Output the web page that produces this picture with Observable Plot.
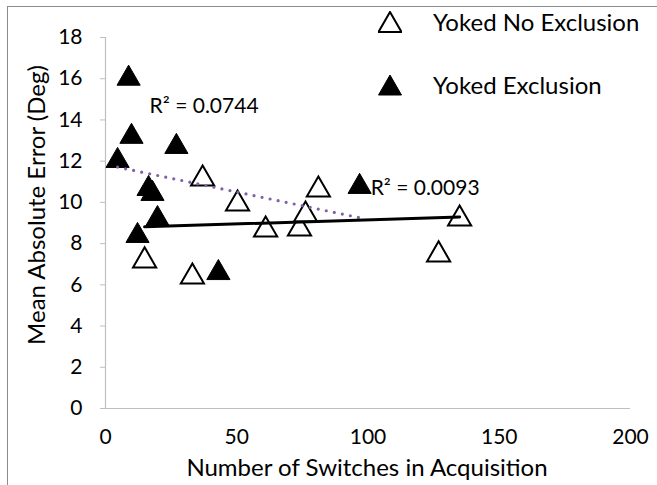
<!DOCTYPE html>
<html>
<head>
<meta charset="utf-8">
<script src="https://cdn.jsdelivr.net/npm/d3@7"></script>
<script src="https://cdn.jsdelivr.net/npm/@observablehq/plot@0.6"></script>
<style>
  html, body { margin: 0; padding: 0; background: #fff; overflow: hidden; }
  #wrap { position: relative; width: 657px; height: 485px; font-family: Lato, "Open Sans", sans-serif; color: #000; }
  #frame { position: absolute; left: 7px; top: 6px; width: 700px; height: 600px; border-left: 1px solid #8c8c8c; border-top: 1px solid #8c8c8c; }
  #chart { position: absolute; left: 0; top: 0; }
  .lbl { position: absolute; white-space: nowrap; line-height: 1; font-size: 24px; }
  .legrow { position: absolute; left: 378px; height: 24px; display: flex; align-items: center; }
  .legrow svg { width: 24px; height: 22px; }
  .legrow span { position: absolute; left: 55px; white-space: nowrap; font-size: 24px; line-height: 1; }
</style>
</head>
<body>
<div id="wrap">
  <div id="frame"></div>
  <div id="chart"></div>
  <div class="lbl" id="ytitle"></div>
  <div class="lbl" id="xtitle"></div>
  <div id="legend"></div>
</div>
<script>
// ---- data ----
const seriesNames = ["Yoked No Exclusion", "Yoked Exclusion"];
const noExclX = [37.0, 81.1, 14.9, 33.1, 50.3, 61.0, 73.9, 76.2, 134.9, 126.9];
const noExclY = [11.3, 10.77, 7.33, 6.55, 10.09, 8.83, 8.88, 9.56, 9.36, 7.62];
const exclX = [8.8, 9.9, 27.0, 4.6, 96.8, 16.4, 17.9, 19.8, 12.2, 43.0];
const exclY = [16.17, 13.35, 12.86, 12.18, 10.92, 10.82, 10.58, 9.36, 8.54, 6.74];
const xTicks = [0, 50, 100, 150, 200];
const yTicks = [0, 2, 4, 6, 8, 10, 12, 14, 16, 18];
const r2Texts = ["R\u00b2 = 0.0744", "R\u00b2 = 0.0093"];
const r2X = [16.8, 101];
const r2Y = [14.65, 10.67];
const xTitle = "Number of Switches in Acquisition";
const yTitle = "Mean Absolute Error (Deg)";

const noExcl = noExclX.map((x, i) => ({x, y: noExclY[i]}));
const excl = exclX.map((x, i) => ({x, y: exclY[i]}));
const r2 = r2Texts.map((t, i) => ({t, x: r2X[i], y: r2Y[i]}));

const TICKFONT = 21;
const R = 8.6;
const chart = Plot.plot({
  width: 657,
  height: 485,
  marginLeft: 105,
  marginRight: 27,
  marginTop: 37,
  marginBottom: 77,
  style: {fontFamily: "Lato, 'Open Sans', sans-serif", fontSize: TICKFONT + "px", background: "transparent", color: "#000"},
  x: {domain: [0, 200]},
  y: {domain: [0, 18]},
  marks: [
    Plot.ruleX([0], {stroke: "#bfbfbf", strokeWidth: 1.2}),
    Plot.ruleY([0], {stroke: "#bfbfbf", strokeWidth: 1.2}),
    Plot.axisY({ticks: yTicks, tickSize: 5, tickPadding: 18, stroke: "#bfbfbf", fill: "#000", fontSize: TICKFONT, label: null}),
    Plot.axisX({ticks: xTicks, tickSize: 0, tickPadding: 21, fill: "#000", fontSize: TICKFONT, label: null}),
    Plot.dot(noExcl, {x: "x", y: "y", symbol: "triangle", r: R, dy: 3.3, fill: "#fff", stroke: "#000", strokeWidth: 2}),
    Plot.dot(excl, {x: "x", y: "y", symbol: "triangle", r: R, dy: 3.3, fill: "#000", stroke: "#000", strokeWidth: 1}),
    Plot.linearRegressionY(excl, {x: "x", y: "y", ci: 0, stroke: "#7e60a5", strokeWidth: 3.2, strokeLinecap: "round", strokeDasharray: "0 8.2"}),
    Plot.linearRegressionY(noExcl, {x: "x", y: "y", ci: 0, stroke: "#000", strokeWidth: 3}),
    Plot.text(r2, {x: "x", y: "y", text: "t", textAnchor: "start", lineAnchor: "middle", fontSize: TICKFONT, fill: "#000"})
  ]
});
document.getElementById("chart").appendChild(chart);

// axis titles
const yt = document.getElementById("ytitle");
yt.textContent = yTitle;
yt.style.left = "36px";
yt.style.top = "205px";
yt.style.transform = "translate(-50%, -50%) rotate(-90deg)";
const xt = document.getElementById("xtitle");
xt.textContent = xTitle;
xt.style.left = "367px";
xt.style.top = "467px";
xt.style.transform = "translate(-50%, -50%)";

// legend
const legend = document.getElementById("legend");
const legY = [22, 85];
seriesNames.forEach((name, i) => {
  const row = document.createElement("div");
  row.className = "legrow";
  row.style.top = (legY[i] - 12) + "px";
  const fill = i === 0 ? "#fff" : "#000";
  const sw = i === 0 ? 2 : 1;
  row.innerHTML = `<svg viewBox="0 0 24 22"><polygon points="12,1 23.5,21 0.5,21" fill="${fill}" stroke="#000" stroke-width="${sw}" stroke-linejoin="miter"/></svg><span>${name}</span>`;
  legend.appendChild(row);
});
</script>
</body>
</html>
